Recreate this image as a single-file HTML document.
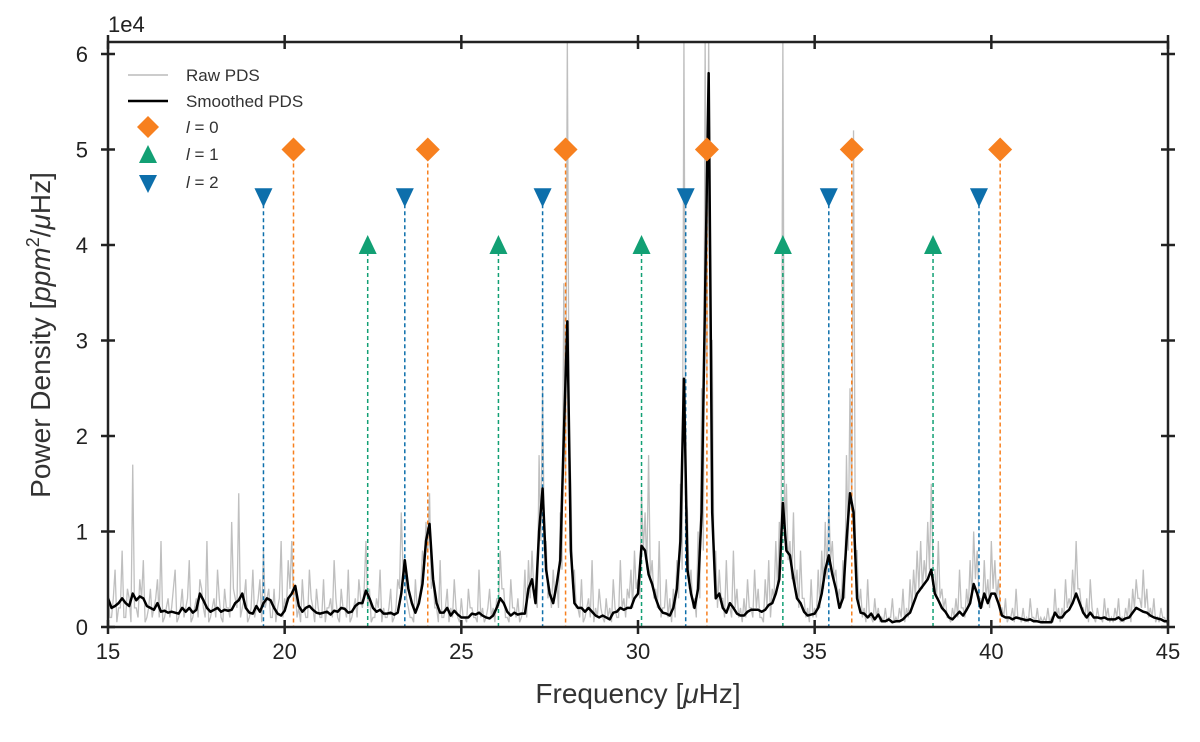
<!DOCTYPE html>
<html><head><meta charset="utf-8"><style>
body{margin:0;background:#fff;}
svg{display:block;font-family:"Liberation Sans","DejaVu Sans",sans-serif;}
</style></head><body>
<svg id="chart" width="1200" height="742">
<defs><clipPath id="pc"><rect x="108" y="42" width="1060" height="585"/></clipPath></defs>
<g id="raw" clip-path="url(#pc)"></g>
<g id="guides"></g>
<g id="smooth" clip-path="url(#pc)"></g>
<g id="marks"></g>
<rect x="108" y="42" width="1060" height="585" fill="none" stroke="#222" stroke-width="2.5"/>
<g id="axes"></g>
<text x="108" y="32" font-size="22" fill="#222">1e4</text>
<text x="638" y="703" font-size="28" text-anchor="middle" fill="#333">Frequency [<tspan font-style="italic">μ</tspan>Hz]</text>
<text transform="translate(50,335) rotate(-90)" font-size="28" text-anchor="middle" fill="#333">Power Density [<tspan font-style="italic">ppm</tspan><tspan font-size="18" dy="-11">2</tspan><tspan dy="11">/</tspan><tspan font-style="italic">μ</tspan>Hz]</text>
<g id="legend">
<line x1="128" y1="75" x2="168" y2="75" stroke="#bbb" stroke-width="1.5"/>
<text x="186" y="81" font-size="17" fill="#333">Raw PDS</text>
<line x1="128" y1="101" x2="168" y2="101" stroke="#000" stroke-width="2.5"/>
<text x="186" y="107" font-size="17" fill="#333">Smoothed PDS</text>
<path d="M148,116 L159,127 L148,138 L137,127Z" fill="#f7801f"/>
<text x="186" y="133" font-size="17" fill="#333"><tspan font-style="italic">l</tspan> = 0</text>
<path d="M148,145 L157,163 L139,163Z" fill="#12a074"/>
<text x="186" y="160" font-size="17" fill="#333"><tspan font-style="italic">l</tspan> = 1</text>
<path d="M148,193 L157,175 L139,175Z" fill="#0d6fab"/>
<text x="186" y="188" font-size="17" fill="#333"><tspan font-style="italic">l</tspan> = 2</text>
</g>
</svg>
<script>
const fStart = 15.0, fStep = 0.1;
const smoothed = [3.0,2.0,2.2,2.5,3.0,2.5,2.2,3.5,2.8,3.2,3.0,
2.2,2.0,1.8,2.5,1.6,1.7,1.5,1.6,1.5,1.4,
2.0,1.6,2.0,1.5,1.8,3.5,2.8,2.0,1.6,1.8,
2.0,1.6,1.8,1.7,1.8,2.5,2.8,3.5,2.0,1.5,
1.4,2.2,1.6,2.5,3.0,2.8,2.0,1.4,1.2,1.7,
3.0,3.5,4.3,2.2,1.6,2.0,2.2,1.8,1.5,1.4,
1.5,1.6,1.3,1.7,1.6,2.0,1.9,1.5,1.6,2.2,
2.5,2.5,3.8,3.0,2.0,1.6,1.8,1.4,1.4,1.5,
1.3,1.5,3.5,7.0,4.0,2.5,1.5,2.5,4.5,
9.0,10.8,5.0,2.5,1.5,1.5,2.0,1.2,1.7,1.3,
1.0,1.0,1.0,1.4,1.3,1.5,1.2,1.0,0.9,1.2,
2.0,3.0,2.5,1.6,1.2,1.5,1.3,1.4,1.4,4.0,
5.0,2.5,10,14.5,6,3.5,2.5,4.5,7,20,
32,8,2.5,2.0,2.0,1.6,2.0,1.6,1.2,1.0,
1.2,1.0,0.8,1.5,1.6,2.0,1.8,2.0,2.0,3.0,
3.5,8.5,8.0,5.5,4.5,3.0,2.0,1.5,1.4,1.2,
2.0,4.0,9,26,6,3.5,2.0,4.0,12,35,
58,12,3,3.5,2,1.5,2.5,2.0,1.4,1.2,
1.2,1.6,1.8,1.8,1.8,1.6,1.8,2.3,2.5,3.5,
5,13,8,7.5,5,3.0,2.5,1.6,1.2,1.3,
1.4,2.0,3.5,6.0,7.5,5.5,4.0,2.0,3.0,9,
14,12,3,1.5,1.4,1.0,1.4,0.8,1.3,0.6,
0.6,0.8,0.5,0.6,0.6,0.8,1.2,1.5,2.5,3.5,
4.0,4.5,5.0,6.0,3.5,2.8,2.0,1.6,1.0,0.8,
1.2,1.6,1.2,1.8,2.5,4.5,3.5,2.0,3.5,2.5,
3.5,3.5,2.5,1.2,1.0,1.0,0.8,1.0,0.9,0.8,
0.7,0.8,0.6,0.6,0.5,0.5,0.5,0.5,1.5,1.0,
1.0,1.5,1.8,2.5,3.5,2.5,1.5,1.0,1.5,1.0,
1.0,0.9,1.0,0.8,0.8,0.8,1.0,0.7,0.9,1.0,
1.5,2.0,1.8,1.6,1.5,1.2,1.0,0.9,0.8,0.6,
0.6];
// raw PDS on the 0.1 grid
const raw = [4,1,6,2,8,1,3,17,2,5,
7,1,4,2,5,9,1,3,2,6,
1,4,2,7,1,3,5,2,9,1,
3,6,1,4,2,11,3,14,2,5,
1,6,2,5,8,3,1,4,2,9,
3,7,9,4,2,5,1,6,2,4,
1,5,2,3,7,1,4,2,6,1,
3,5,2,9,4,1,3,6,2,1,
4,1,5,12,6,2,1,5,3,8,
11,14,5,2,7,1,4,2,5,1,
3,1,4,2,1,6,2,1,4,2,
3,8,4,1,5,2,3,1,6,7,
8,3,18,25,9,4,6,5,12,36,
62,15,6,2,5,1,3,7,2,4,
1,3,2,5,1,7,3,4,6,8,
5,14,12,18,7,4,9,2,5,3,
4,7,15,62,12,6,3,10,25,62,
62,30,8,6,3,7,2,8,4,2,
3,5,2,6,4,1,5,7,4,9,
11,62,15,9,12,6,8,3,2,5,
2,6,8,11,13,9,6,4,7,18,
25,52,8,4,2,5,1,3,2,1,
2,1,3,1,2,4,2,5,6,8,
9,7,11,15,6,9,4,3,1,2,
3,6,2,4,7,10,8,3,7,5,
9,7,5,2,3,1,2,4,1,2,
1,3,1,2,1,1,2,1,4,2,
2,5,3,6,9,4,2,3,5,1,
2,1,3,2,1,2,3,1,2,3,
4,5,3,6,4,2,3,1,2,1,
1];
// raw PDS on the half-step grid (15.05, 15.15, ...)
const rawHalf = [1,3,0.5,2,1,4,0.5,2,1,3,
0.5,2,1,3,1,0.5,2,1,4,0.5,
2,1,3,0.5,2,1,4,1,0.5,2,
1,3,0.5,2,1,4,2,1,3,0.5,
2,1,3,0.5,2,4,1,0.5,3,1,
2,4,3,1,0.5,2,1,3,0.5,2,
1,0.5,2,1,3,0.5,2,1,0.5,2,
1,3,4,2,0.5,1,2,0.5,1,2,
0.5,2,4,6,3,1,0.5,2,4,6,
8,4,2,0.5,1,2,0.5,1,2,0.5,
1,0.5,2,1,0.5,1,0.5,2,1,0.5,
2,4,1,0.5,2,1,0.5,2,1,3,
4,2,9,8,3,2,3,2,6,15,
20,4,2,1,0.5,2,1,0.5,1,2,
0.5,1,0.5,2,1,2,1,3,2,4,
3,8,6,5,3,2,1,2,1,0.5,
1,3,6,14,4,2,1,3,8,25,
30,6,2,3,1,2,1,2,1,0.5,
1,2,1,2,1,0.5,2,1,3,4,
6,9,7,5,4,2,3,1,0.5,1,
1,2,4,5,7,5,3,2,3,8,
12,8,2,1,0.5,1,0.5,1,0.5,0.5,
0.5,1,0.5,0.5,1,0.5,1,2,3,4,
4,5,6,6,3,3,2,1,0.5,1,
1,2,1,2,3,5,3,2,3,2,
4,3,2,1,0.5,1,0.5,1,0.5,0.5,
0.5,1,0.5,0.5,0.5,0.5,0.5,0.5,1,0.5,
1,2,2,3,4,2,1,0.5,2,0.5,
1,0.5,1,0.5,0.5,1,0.5,0.5,1,0.5,
2,3,2,2,1,1,0.5,0.5,1,0.5];
const l0Freqs = [20.25,24.05,27.95,31.95,36.05,40.25];
const l1Freqs = [22.35,26.05,30.1,34.1,38.35];
const l2Freqs = [19.4,23.4,27.3,31.35,35.4,39.65];
const l0Level = 50, l1Level = 40, l2Level = 45;
const xTicks = [15,20,25,30,35,40,45];
const yTicks = [0,1,2,3,4,5,6];

const NS = "http://www.w3.org/2000/svg";
const X = f => 108 + (f - 15) / 30 * 1060;
const Y = v => 627 - v * 9.55; // v in thousands
function mk(tag, attrs, parent){const e=document.createElementNS(NS,tag);for(const k in attrs)e.setAttribute(k,attrs[k]);parent.appendChild(e);return e;}

function linePath(arr){return arr.map((v,i)=>(i?'L':'M')+X(fStart+i*fStep).toFixed(2)+','+Y(v).toFixed(2)).join('');}
// interleave raw grids
const rawPts = [];
raw.forEach((v,i)=>{
  rawPts.push([fStart+i*fStep, v]);
  if(i<rawHalf.length) rawPts.push([fStart+(i+0.5)*fStep, rawHalf[i]]);
});
const rawD = rawPts.map((p,i)=>(i?'L':'M')+X(p[0]).toFixed(2)+','+Y(p[1]).toFixed(2)).join('');
const rawP = mk('path',{d:rawD,fill:'none',stroke:'#bfbfbf','stroke-width':1.3},document.getElementById('raw'));


const smP = mk('path',{d:linePath(smoothed),fill:'none',stroke:'#000','stroke-width':2.5,'stroke-linejoin':'round'},document.getElementById('smooth'));



const guides=document.getElementById('guides'), marks=document.getElementById('marks');
function mode(freqs, level, color, kind, name){
  freqs.forEach((f,i)=>{
    const x=X(f), y=Y(level);
    const g=mk('line',{x1:x,y1:y,x2:x,y2:627,stroke:color,'stroke-width':1.5,'stroke-dasharray':'4,3'},guides);
    
    
    let d;
    if(kind==='d') d=`M${x},${y-12}L${x+12},${y}L${x},${y+12}L${x-12},${y}Z`;
    else if(kind==='u') d=`M${x},${y-10}L${x+9},${y+9}L${x-9},${y+9}Z`;
    else d=`M${x},${y+10}L${x+9},${y-9}L${x-9},${y-9}Z`;
    const m=mk('path',{d:d,fill:color},marks);
    
    
  });
}
mode(l0Freqs,l0Level,'#f7801f','d','l0');
mode(l1Freqs,l1Level,'#12a074','u','l1');
mode(l2Freqs,l2Level,'#0d6fab','v','l2');

const axes=document.getElementById('axes');
xTicks.forEach(t=>{
  const x=X(t);
  const a=mk('line',{x1:x,y1:620,x2:x,y2:634,stroke:'#222','stroke-width':2.5},axes);
  
  
  const b=mk('line',{x1:x,y1:35,x2:x,y2:49,stroke:'#222','stroke-width':2.5},axes);
  
  
  const tx=mk('text',{x:x,y:659,'font-size':22,'text-anchor':'middle',fill:'#222'},axes);
  tx.textContent=t;
  
  
});
yTicks.forEach(t=>{
  const y=Y(t*10);
  const a=mk('line',{x1:101,y1:y,x2:115,y2:y,stroke:'#222','stroke-width':2.5},axes);
  
  
  const b=mk('line',{x1:1161,y1:y,x2:1175,y2:y,stroke:'#222','stroke-width':2.5},axes);
  
  
  const tx=mk('text',{x:88,y:y+8,'font-size':22,'text-anchor':'end',fill:'#222'},axes);
  tx.textContent=t;
  
  
});
</script>
</body></html>
